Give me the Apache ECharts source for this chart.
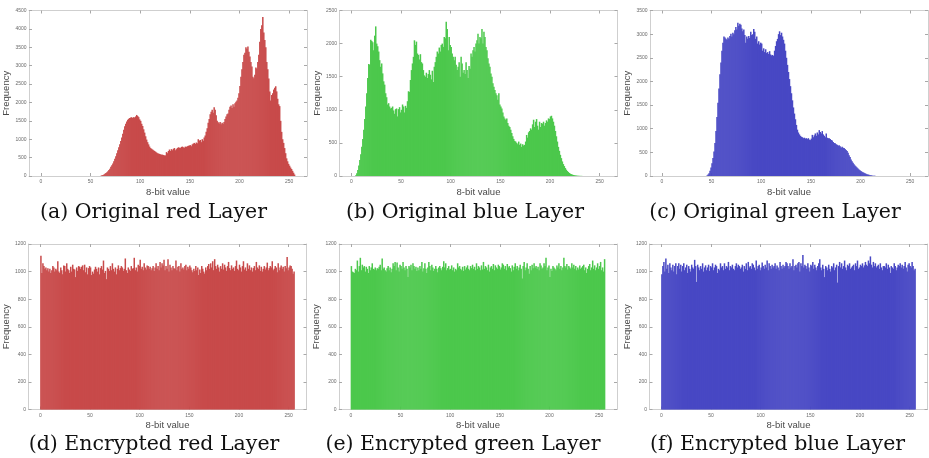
<!DOCTYPE html>
<html>
<head>
<meta charset="utf-8">
<script src="https://cdn.jsdelivr.net/npm/echarts@6/dist/echarts.min.js"></script>
<style>
html,body{margin:0;padding:0;background:#fff;}
#chart{width:929px;height:458px;}
</style>
</head>
<body>
<div id="chart"></div>
<script>
// ---------------- DATA ----------------
const xTicks = [0, 50, 100, 150, 200, 250];
const xLabelText = '8-bit value';
const yLabelText = 'Frequency';
const captions = ['(a) Original red Layer', '(b) Original blue Layer', '(c) Original green Layer',
                  '(d) Encrypted red Layer', '(e) Encrypted green Layer', '(f) Encrypted blue Layer'];
const yMaxes = [4500, 2500, 3500, 1200, 1200, 1200];
const ySteps = [500, 500, 500, 200, 200, 200];

// bins 0..255
const redOriginal = [
 0,0,0,0,0,0,0,0,0,0,0,0,0,0,0,0,
 0,0,0,0,0,0,0,0,0,0,0,0,0,0,0,0,
 0,0,0,0,0,0,0,0,0,0,0,0,0,0,0,0,
 0,0,0,0,0,0,0,0,0,0,0,0,10,20,30,40,
 60,80,100,130,160,200,250,290,340,400,470,540,620,700,780,860,
 950,1050,1150,1260,1350,1420,1480,1530,1560,1580,1590,1600,1580,1600,1590,1620,
 1660,1630,1600,1540,1500,1420,1360,1270,1180,1080,990,920,860,800,760,740,
 720,700,680,660,640,620,610,600,590,580,580,570,560,560,650,620,
 680,720,680,730,700,740,760,700,730,760,780,770,760,790,800,780,
 770,800,790,810,820,830,840,810,860,880,900,870,910,890,1000,960,
 980,920,1000,960,1050,1100,1200,1300,1450,1550,1680,1750,1800,1720,1870,1800,
 1650,1500,1460,1430,1470,1410,1450,1420,1470,1550,1620,1680,1700,1800,1880,1920,
 1850,1950,1880,1980,2020,2050,2130,2250,2450,2700,2900,3100,3300,3350,3500,3460,
 3520,3380,3250,3100,2980,2700,2660,2750,2950,2920,3100,3300,3650,4000,4100,4320,
 3900,3700,3500,3100,2900,2650,2300,2050,2200,2250,2350,2400,2440,2300,2100,1950,
 1900,1500,1200,1000,900,760,620,480,400,330,280,230,190,140,90,40
];
const greenOriginal = [
 0,0,0,0,10,40,90,160,240,330,440,560,700,860,1050,1250,
 1480,1690,1680,2060,2040,2020,1900,2120,2260,2000,1960,1880,1750,1650,1700,1550,
 1430,1380,1250,1190,1080,1100,1050,1020,1030,1050,990,940,1010,1020,900,1010,
 1040,960,1000,1080,1050,960,1060,1030,1130,1280,1270,1450,1600,1700,1800,2050,
 1980,2030,1850,1830,1760,1840,1720,1700,1600,1520,1500,1560,1480,1540,1600,1530,
 1460,1590,1420,1650,1720,1800,1880,1850,1940,1880,1980,2000,1950,2100,2080,2330,
 2220,1900,2100,1980,1950,1850,1800,1750,1800,1680,1600,1650,1720,1500,1800,1700,
 1560,1600,1540,1720,1600,1480,1660,1620,1850,1800,1900,1950,1880,2000,2050,2150,
 2000,2100,2080,2220,2000,2180,2100,1950,1900,1780,1700,1650,1550,1500,1400,1350,
 1300,1250,1220,1150,1250,1080,1050,1020,960,900,870,850,870,800,760,740,
 700,650,600,560,530,520,500,480,520,470,490,440,480,460,470,520,
 620,580,660,680,720,700,780,850,740,820,860,760,700,820,740,800,
 790,820,760,800,840,820,870,860,900,910,870,820,760,680,600,520,
 440,380,320,270,220,180,150,120,95,75,60,45,35,28,22,16,
 12,9,7,5,4,3,2,2,1,1,0,0,0,0,0,0,
 0,0,0,0,0,0,0,0,0,0,0,0,0,0,0,0
];
const blueOriginal = [
 0,0,0,0,0,0,0,0,0,0,0,0,0,0,0,0,
 0,0,0,0,0,0,0,0,0,0,0,0,0,0,0,0,
 0,0,0,0,0,0,0,0,0,0,0,0,0,10,30,60,
 110,180,270,380,520,700,950,1250,1550,1850,2150,2400,2650,2820,2950,2930,
 2900,2880,2930,2900,2960,3010,2950,3030,3000,3080,3150,3100,3240,3180,3220,3200,
 3120,3060,3100,2980,2820,2950,2900,2960,2920,3050,2980,3000,3110,3050,2900,2950,
 2800,2850,2780,2820,2800,2650,2700,2620,2680,2600,2620,2580,2640,2570,2550,2560,
 2540,2650,2750,2850,2900,3000,3060,2980,3030,2950,2880,2800,2650,2500,2350,2200,
 2050,1900,1750,1600,1450,1320,1200,1080,980,920,880,850,830,820,800,810,
 790,800,780,800,770,760,790,870,820,860,900,850,920,880,970,930,
 900,950,880,850,820,900,810,800,800,780,760,750,720,700,690,670,
 660,640,650,630,600,620,600,590,570,550,530,490,440,400,350,310,
 280,250,220,200,180,160,140,120,105,92,80,70,58,48,38,30,
 24,18,14,10,7,5,3,2,1,0,0,0,0,0,0,0,
 0,0,0,0,0,0,0,0,0,0,0,0,0,0,0,0,
 0,0,0,0,0,0,0,0,0,0,0,0,0,0,0,0
];
const redEncrypted = [
 1115,990,1060,1040,1020,1030,1010,1025,1000,1020,990,1010,1040,1030,1000,1020,
 1010,1075,1000,990,1030,1010,980,1045,1040,1000,1060,1020,1010,990,1035,1000,
 1050,1020,1015,960,1030,1005,1040,1035,1020,1035,1045,1010,1050,995,1030,980,
 1025,1040,1030,975,1000,985,1015,1035,1020,1000,1030,980,1025,1040,1015,1080,
 990,1005,945,1030,1020,1005,1040,1010,1060,1020,1000,1030,980,1020,1045,1010,
 1025,1040,1030,1005,1020,1095,1010,990,1030,1015,1005,1040,1020,1025,1100,1010,
 1030,1000,1050,1040,1085,1020,1035,1010,1060,1030,1015,1045,1040,1020,1035,1010,
 1025,1040,1005,1030,1060,1020,1040,1010,1070,1030,1060,1045,1085,1010,1040,1020,
 1090,1000,1050,1030,1010,1040,1025,1020,1080,1010,1035,1040,1000,1060,1020,1030,
 1015,1040,1050,1010,1035,1020,1045,1030,1010,995,1020,1005,1040,1010,1030,975,
 1015,990,1040,1020,1000,985,1030,1010,1040,1055,1020,1060,1030,1075,1010,1090,
 1040,1020,1050,1030,1000,1040,1020,1060,1015,1050,1030,1005,1040,1070,1025,1010,
 1045,1020,1030,1005,1040,1080,1020,1010,1050,1030,1000,1040,1075,1015,1030,1005,
 1060,1020,1045,1010,1030,1000,1025,1040,1010,1070,1030,1020,1045,1005,1035,1000,
 1020,1040,1015,1030,1065,1010,1025,1040,1030,1075,1010,1020,1040,1030,995,1060,
 1010,1030,1045,1020,1035,1000,1040,1025,1105,1010,1030,1045,1040,1020,985,1000
];
const greenEncrypted = [
 1040,1000,995,990,1020,1010,1080,1000,1040,1100,1010,1050,1030,1040,1000,1035,
 1020,990,1040,1010,1030,1060,1020,1015,1030,1010,1025,1020,1035,1050,1010,1095,
 1020,1030,1010,1000,1025,1040,1010,1030,995,1020,1060,1040,1070,1010,1065,1030,
 1000,1050,1040,1020,1070,1030,1010,1040,1020,960,1040,1030,1050,1010,1060,1040,
 1020,1035,1005,1030,1010,1040,1020,1070,1000,1025,1060,1020,990,1030,1070,1040,
 1010,1050,1030,1005,1020,1040,1020,995,1030,1040,1025,1010,1035,1075,1030,1060,
 1010,1025,1040,1015,1020,1045,1010,1030,1000,1020,1010,1060,1030,1040,1020,1010,
 1035,1005,1040,1015,1030,1045,1020,1010,1040,1025,1050,1020,1035,1010,1060,1020,
 1040,1030,1010,1045,1015,1070,1020,1040,1030,1010,1050,1000,1030,1040,1020,1055,
 1010,1045,1030,1020,1050,1040,1015,1030,1060,1050,1020,1040,1010,1055,1030,1040,
 1025,1000,1045,1010,1035,1060,1020,1040,1010,1030,1050,1020,950,1040,1070,1010,
 1030,1060,1020,985,1040,1010,1050,1025,1060,1030,1040,1020,1035,1010,1060,1045,
 1020,1030,1060,1040,1100,1010,1030,1045,960,1020,1005,1040,1030,1020,1010,1045,
 1030,1060,1020,1040,1010,1030,1100,1040,1030,1055,1015,1040,1030,1020,1060,1030,
 1050,1020,1040,1010,1030,1015,1045,1020,1030,1040,1050,1010,1030,990,1020,1040,
 1055,1010,1030,1080,1020,1045,1010,1030,1060,1020,1040,1070,1010,1030,1000,1090
];
const blueEncrypted = [
 980,1040,1070,1000,1095,1020,1050,990,1060,1030,1010,1050,1000,1040,1060,980,
 1040,1060,1020,1050,1000,1040,1060,1010,1030,1050,990,1040,1020,1000,1050,1030,
 1020,1085,1040,925,1050,1030,1010,1040,1020,1060,1000,1030,1045,1010,1030,1050,
 1005,1040,1030,1060,1010,1030,1050,1040,990,1020,1010,1060,1030,1040,1010,1060,
 1020,1040,1030,1070,1010,1040,1030,1050,1020,1010,1040,1060,1030,1050,1040,1020,
 1030,1050,1000,1040,1020,1060,1010,1070,1030,1040,1020,1060,1050,1030,1010,1080,
 1020,1040,1050,1010,1030,1065,1040,1020,1050,1030,1080,1010,1060,1040,1020,1050,
 1030,1040,1060,1020,1045,1030,1010,1070,1040,1020,1050,1030,1040,1070,1060,1040,
 1020,1060,1030,1040,1090,1010,1040,1050,1030,1060,1070,1000,1060,1040,1120,1030,
 1050,1040,1020,1060,1030,1000,1050,1040,1070,1020,1050,1030,1010,1040,1060,1090,
 1030,1010,1050,1020,960,1040,1030,1010,1050,1020,1000,1040,1030,1060,1010,1030,
 1050,920,1040,1070,1030,1060,1020,1040,1080,1030,1010,1050,1040,1060,1020,1030,
 1040,1050,1010,1060,1040,1080,1020,1030,1050,1040,1060,1030,1045,1070,1050,1040,
 1080,1060,1110,1050,1030,1070,1040,1060,1030,1040,1050,1020,1060,1030,1010,1040,
 1040,1030,1060,1020,1050,1030,990,1040,1030,1020,1060,1040,1010,1030,1050,1040,
 1060,1030,1050,1020,1040,1070,1030,1000,1050,1060,1040,1030,1070,1040,1010,1020
];
const panelData = [redOriginal, greenOriginal, blueOriginal, redEncrypted, greenEncrypted, blueEncrypted];

// ---------------- LAYOUT / STYLE ----------------
const X_MIN = -12, X_MAX = 268;
const colors = ['#c84a4a', '#4cc84c', '#4848c4', '#c84a4a', '#4cc84c', '#4848c4'];
const lefts = [29, 339.5, 650, 28.5, 339, 649.5];
const tops = [10.5, 10.5, 10.5, 244, 244, 244];
const PW = 278, PH = 165.5;
const capPos = [[153.5, 213], [465, 213], [775, 213], [154, 445], [463, 445], [777.5, 445]];

const cats = [];
for (let v = X_MIN; v < X_MAX; v++) cats.push(v);

const grid = [], xAxis = [], yAxis = [], series = [], graphic = [];
const frame = '#cfcfcf', tickCol = '#a8a8a8', labCol = '#6a6a6a';
const sans = 'Liberation Sans';

for (let i = 0; i < 6; i++) {
  grid.push({left: lefts[i], top: tops[i], width: PW, height: PH, containLabel: false});
  xAxis.push({type: 'category', gridIndex: i, data: cats, show: false, boundaryGap: true});
  xAxis.push({type: 'value', gridIndex: i, min: X_MIN, max: X_MAX, position: 'bottom',
    axisLine: {show: true, onZero: false, lineStyle: {color: frame, width: 1}},
    axisTick: {show: true, inside: true, length: 3, customValues: xTicks, lineStyle: {color: tickCol}},
    axisLabel: {customValues: xTicks, fontSize: 5, color: labCol, margin: 3.5, fontFamily: sans,
      formatter: (v) => String(v)},
    splitLine: {show: false},
    name: xLabelText, nameLocation: 'middle', nameGap: 11,
    nameTextStyle: {fontSize: 9.5, color: '#4a4a4a', fontFamily: sans}});
  xAxis.push({type: 'value', gridIndex: i, min: X_MIN, max: X_MAX, position: 'top',
    axisLine: {show: true, onZero: false, lineStyle: {color: frame, width: 1}},
    axisTick: {show: true, inside: true, length: 3, customValues: xTicks, lineStyle: {color: tickCol}},
    axisLabel: {show: false}, splitLine: {show: false}});
  yAxis.push({type: 'value', gridIndex: i, min: 0, max: yMaxes[i], interval: ySteps[i], position: 'left',
    axisLine: {show: true, onZero: false, lineStyle: {color: frame, width: 1}},
    axisTick: {show: true, inside: true, length: 3, lineStyle: {color: tickCol}},
    axisLabel: {fontSize: 5, color: labCol, margin: 2.5, fontFamily: sans, formatter: (v) => String(v)},
    splitLine: {show: false},
    name: yLabelText, nameLocation: 'middle', nameGap: 10, nameRotate: 90,
    nameTextStyle: {fontSize: 9.5, color: '#4a4a4a', fontFamily: sans}});
  yAxis.push({type: 'value', gridIndex: i, min: 0, max: yMaxes[i], interval: ySteps[i], position: 'right',
    axisLine: {show: true, onZero: false, lineStyle: {color: frame, width: 1}},
    axisTick: {show: true, inside: true, length: 3, lineStyle: {color: tickCol}},
    axisLabel: {show: false}, splitLine: {show: false}});
  const padded = [];
  for (let v = X_MIN; v < X_MAX; v++) {
    padded.push(v >= 0 && v <= 255 ? panelData[i][v] : null);
  }
  series.push({type: 'bar', xAxisIndex: 3 * i, yAxisIndex: 2 * i, data: padded,
    barWidth: 1.5, barGap: '-100%',
    itemStyle: {color: colors[i]},
    emphasis: {disabled: true}, silent: true});
  graphic.push({type: 'text', x: capPos[i][0], y: capPos[i][1],
    style: {text: captions[i], font: '20.5px "DejaVu Serif"', fill: '#111',
      textAlign: 'center', textVerticalAlign: 'middle'}});
}

const chart = echarts.init(document.getElementById('chart'), null, {renderer: 'canvas'});
chart.setOption({
  animation: false,
  backgroundColor: '#fff',
  grid, xAxis, yAxis, series, graphic
});
</script>
</body>
</html>
